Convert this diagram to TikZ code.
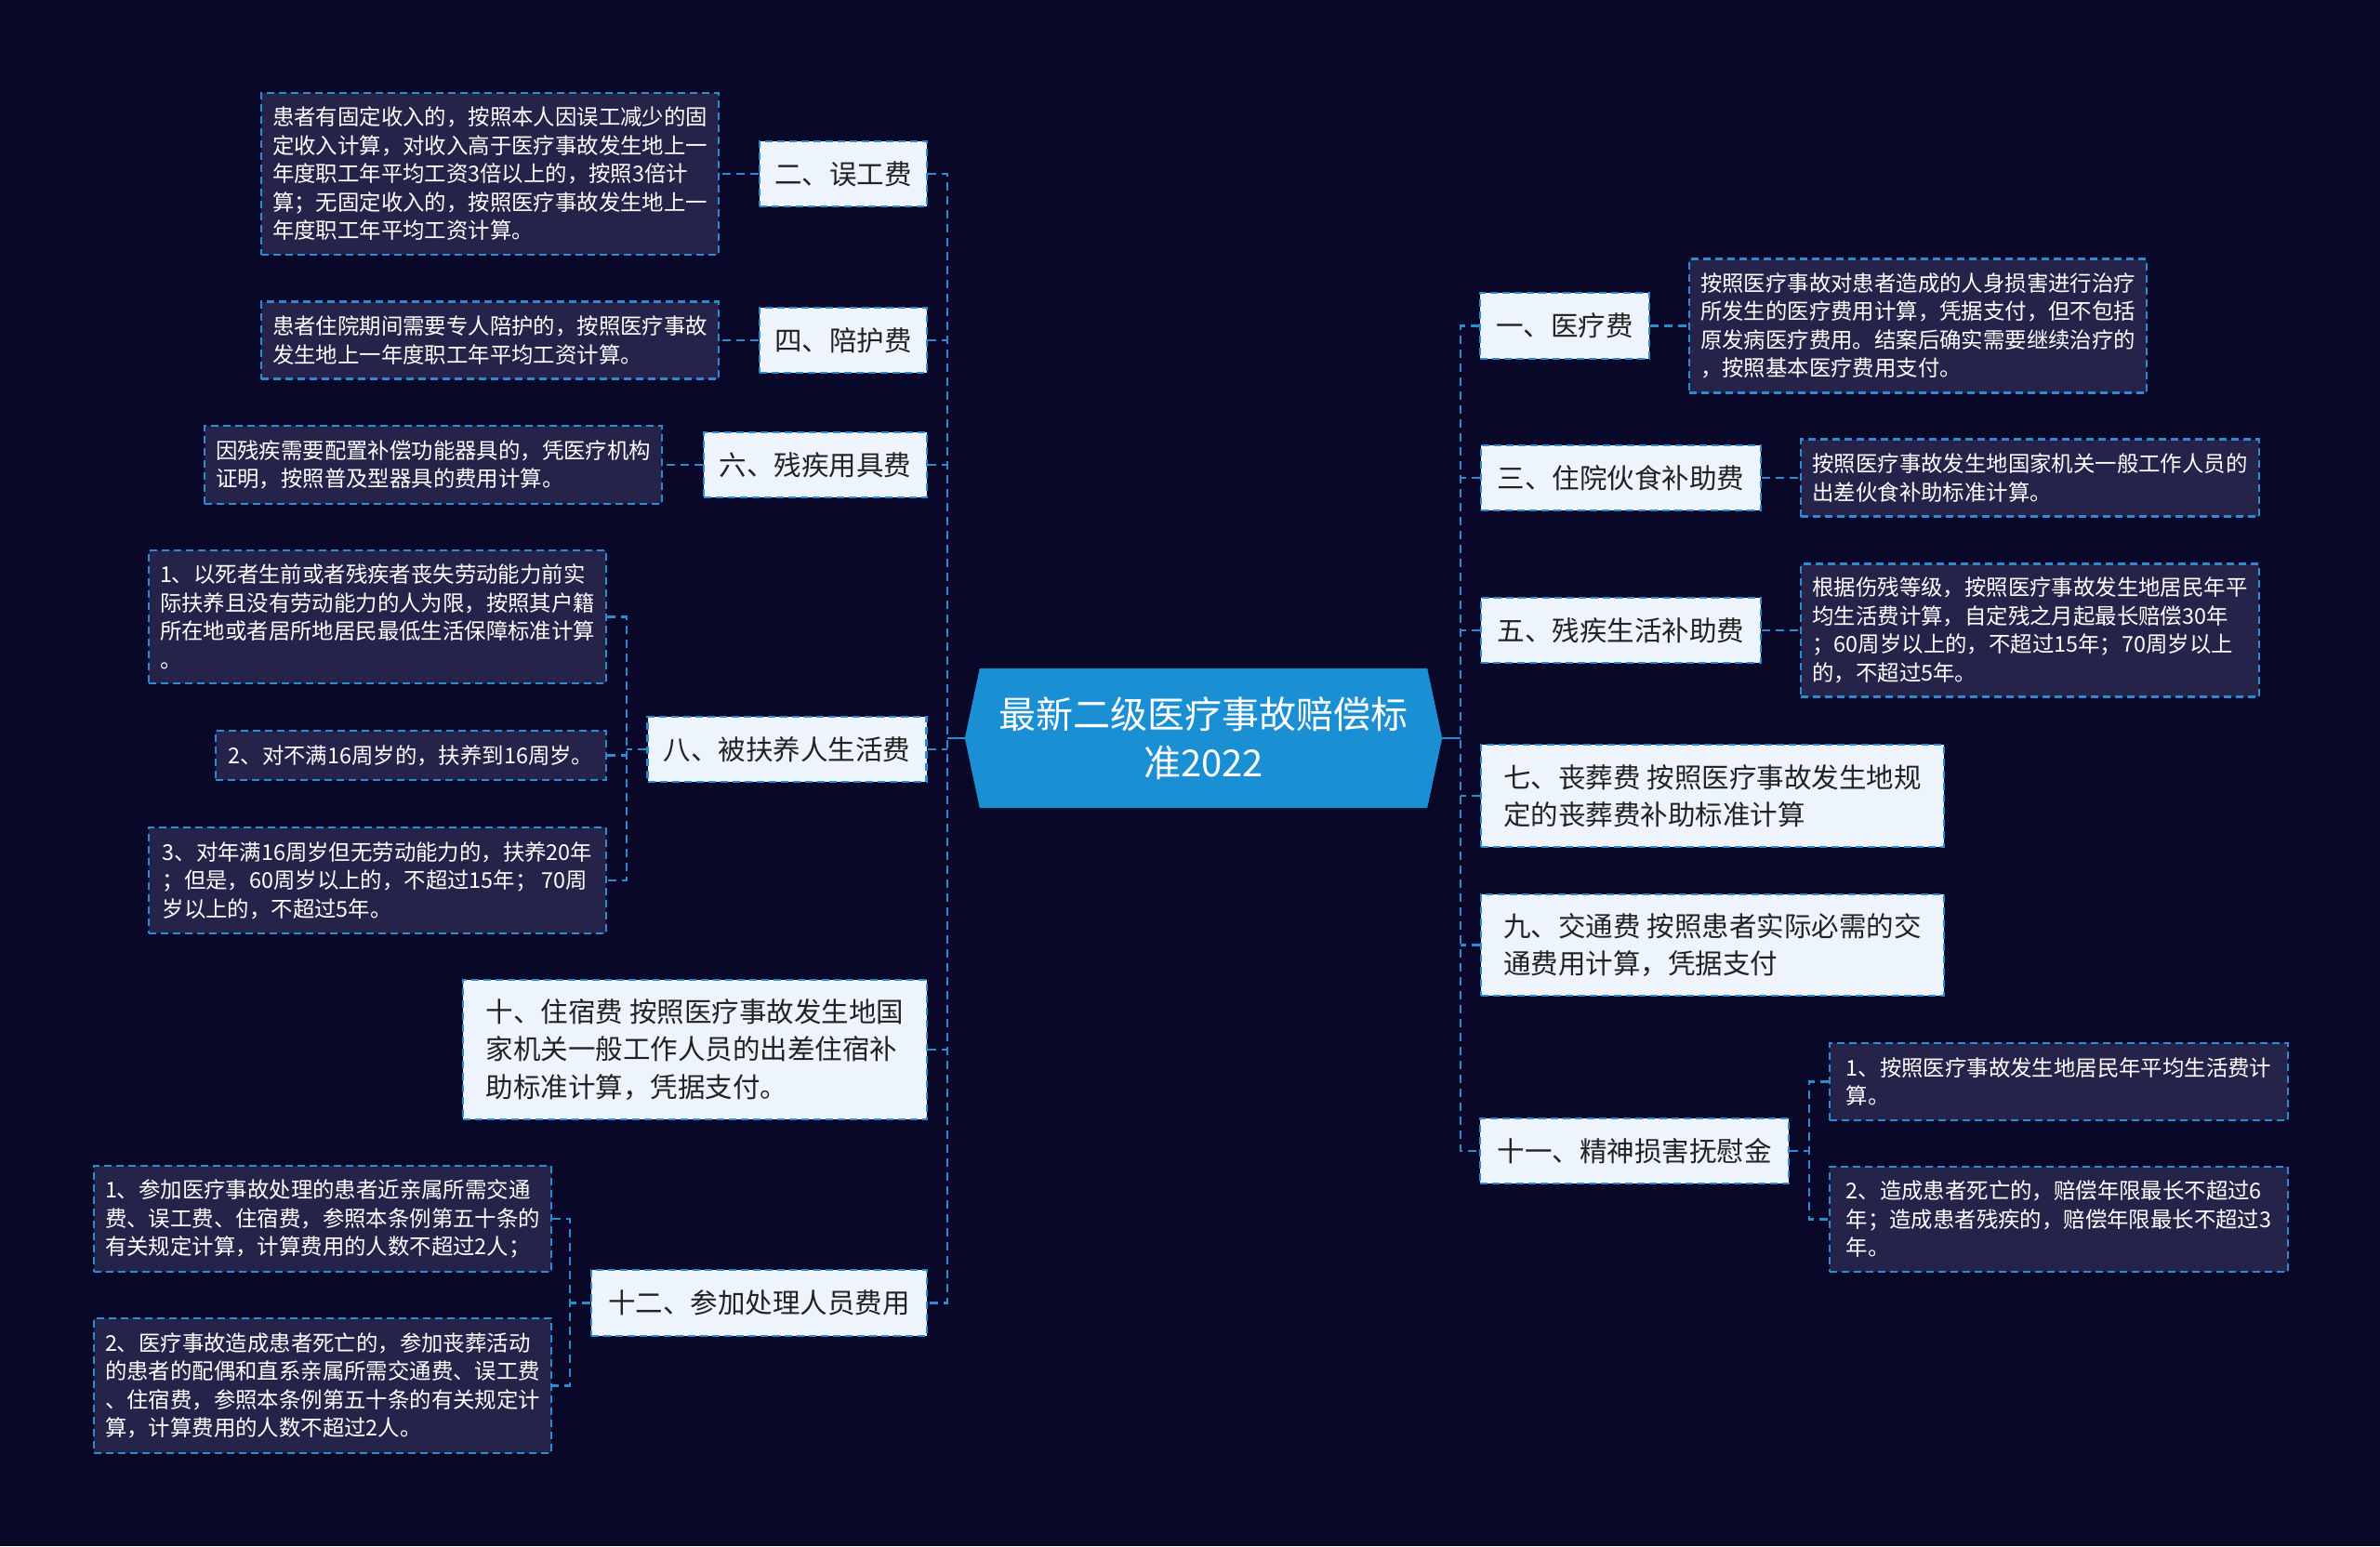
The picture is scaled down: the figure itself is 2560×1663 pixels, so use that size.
\documentclass[tikz,border=0pt]{standalone}
\usepackage{fontspec}
\setmainfont{Noto Sans CJK SC}
\definecolor{bgc}{HTML}{0A0828}
\definecolor{lfill}{HTML}{EEF4FC}
\definecolor{dfill}{HTML}{26234B}
\definecolor{bord}{HTML}{2C8CD2}
\definecolor{hexc}{HTML}{1B8FD4}
\definecolor{ltext}{HTML}{222222}
\pgfdeclarelayer{bg}\pgfdeclarelayer{mid}\pgfsetlayers{bg,mid,main}
\tikzset{
 box/.style={draw=bord, line width=2.2pt, dash pattern=on 8pt off 5pt, inner sep=0pt, align=left},
 lone/.style={box, fill=lfill, text=ltext, font=\fontsize{29.5}{40.5}\selectfont},
 detail/.style={box, fill=dfill, text=white, font=\fontsize{23.4}{30.5}\selectfont},
 conn/.style={draw=bord, line width=2.5pt, dash pattern=on 9pt off 6pt},
 solidconn/.style={draw=bord, line width=2.5pt},
 sz/.style 2 args={minimum width=#1pt, minimum height=#2pt},
}
\begin{document}
\begin{tikzpicture}[x=1pt,y=-1pt]
\useasboundingbox (0,0) rectangle (2560,1663);
\begin{pgfonlayer}{bg}
\fill[bgc] (0,0) rectangle (2560,1663);
\end{pgfonlayer}

% center
\node[text=white, font=\fontsize{40}{52}\selectfont, align=center, inner sep=0pt, sz={513}{150}] (c) at (1294.5,794) {最新二级医疗事故赔偿标\\准2022};
\begin{pgfonlayer}{mid}
\fill[hexc] (c.west) -- ([xshift=16pt]c.north west) -- ([xshift=-16pt]c.north east) -- (c.east) -- ([xshift=-16pt]c.south east) -- ([xshift=16pt]c.south west) -- cycle;
\end{pgfonlayer}

% left level one
\node[lone, sz={180}{70}] (n2) at (907,187) {二、误工费};
\node[lone, sz={180}{70}] (n4) at (907,366) {四、陪护费};
\node[lone, sz={240}{70}] (n6) at (877,500) {六、残疾用具费};
\node[lone, sz={300}{70}] (n8) at (846.5,806) {八、被扶养人生活费};
\node[lone, sz={499}{150}] (n10) at (747.5,1129) {十、住宿费 按照医疗事故发生地国\\家机关一般工作人员的出差住宿补\\助标准计算，凭据支付。};
\node[lone, sz={361}{71}] (n12) at (816.5,1401.5) {十二、参加处理人员费用};

% left details
\node[detail, sz={492}{174}] (d2) at (527,187) {患者有固定收入的，按照本人因误工减少的固\\定收入计算，对收入高于医疗事故发生地上一\\年度职工年平均工资3倍以上的，按照3倍计\\算；无固定收入的，按照医疗事故发生地上一\\年度职工年平均工资计算。};
\node[detail, sz={492}{83}] (d4) at (527,366) {患者住院期间需要专人陪护的，按照医疗事故\\发生地上一年度职工年平均工资计算。};
\node[detail, sz={492}{84}] (d6) at (466,500) {因残疾需要配置补偿功能器具的，凭医疗机构\\证明，按照普及型器具的费用计算。};
\node[detail, sz={492}{143}] (s8a) at (406,663.5) {1、以死者生前或者残疾者丧失劳动能力前实\\际扶养且没有劳动能力的人为限，按照其户籍\\所在地或者居所地居民最低生活保障标准计算\\。};
\node[detail, sz={420}{53}] (s8b) at (442,812.5) {2、对不满16周岁的，扶养到16周岁。};
\node[detail, sz={492}{114}] (s8c) at (406,947) {3、对年满16周岁但无劳动能力的，扶养20年\\；但是，60周岁以上的，不超过15年； 70周\\岁以上的，不超过5年。};
\node[detail, sz={492}{114}] (s12a) at (347,1311) {1、参加医疗事故处理的患者近亲属所需交通\\费、误工费、住宿费，参照本条例第五十条的\\有关规定计算，计算费用的人数不超过2人；};
\node[detail, sz={492}{145}] (s12b) at (347,1490.5) {2、医疗事故造成患者死亡的，参加丧葬活动\\的患者的配偶和直系亲属所需交通费、误工费\\、住宿费，参照本条例第五十条的有关规定计\\算，计算费用的人数不超过2人。};

% right level one
\node[lone, sz={182}{71}] (n1) at (1683,350.5) {一、医疗费};
\node[lone, sz={301}{70}] (n3) at (1743.5,514) {三、住院伙食补助费};
\node[lone, sz={301}{70}] (n5) at (1743.5,678) {五、残疾生活补助费};
\node[lone, sz={498}{110}] (n7) at (1842,856) {七、丧葬费 按照医疗事故发生地规\\定的丧葬费补助标准计算};
\node[lone, sz={498}{109}] (n9) at (1842,1016.5) {九、交通费 按照患者实际必需的交\\通费用计算，凭据支付};
\node[lone, sz={332}{70}] (n11) at (1758,1238) {十一、精神损害抚慰金};

% right details
\node[detail, sz={492}{144}] (d1) at (2063,350.5) {按照医疗事故对患者造成的人身损害进行治疗\\所发生的医疗费用计算，凭据支付，但不包括\\原发病医疗费用。结案后确实需要继续治疗的\\，按照基本医疗费用支付。};
\node[detail, sz={493}{83}] (d3) at (2183.5,514) {按照医疗事故发生地国家机关一般工作人员的\\出差伙食补助标准计算。};
\node[detail, sz={493}{143}] (d5) at (2183.5,678) {根据伤残等级，按照医疗事故发生地居民年平\\均生活费计算，自定残之月起最长赔偿30年\\；60周岁以上的，不超过15年；70周岁以上\\的，不超过5年。};
\node[detail, sz={493}{83}] (s11a) at (2214.5,1163.5) {1、按照医疗事故发生地居民年平均生活费计\\算。};
\node[detail, sz={493}{113}] (s11b) at (2214.5,1311.5) {2、造成患者死亡的，赔偿年限最长不超过6\\年；造成患者残疾的，赔偿年限最长不超过3\\年。};

% spine coordinates
\coordinate (lsp) at (1019,794);
\coordinate (rsp) at (1571,794);
\coordinate (sp8) at (674,806);
\coordinate (sp12) at (613,1401.5);
\coordinate (sp11) at (1946,1238);

% left connectors
\draw[solidconn] (c.west) -- (lsp);
\draw[conn] (n2.east) -- (n2.east -| lsp) -- (n12.east -| lsp) -- (n12.east);
\foreach \n in {n4,n6,n8,n10} \draw[conn] (\n.east) -- (\n.east -| lsp);
\foreach \n/\d in {n2/d2,n4/d4,n6/d6} \draw[conn] (\n.west) -- (\n.west -| \d.east);
\draw[conn] (n8.west) -- (sp8);
\draw[conn] (s8a.east) -- (s8a.east -| sp8) -- (s8c.east -| sp8) -- (s8c.east);
\draw[conn] (s8b.east) -- (s8b.east -| sp8);
\draw[conn] (n12.west) -- (sp12);
\draw[conn] (s12a.east) -- (s12a.east -| sp12) -- (s12b.east -| sp12) -- (s12b.east);

% right connectors
\draw[solidconn] (c.east) -- (rsp);
\draw[conn] (n1.west) -- (n1.west -| rsp) -- (n11.west -| rsp) -- (n11.west);
\foreach \n in {n3,n5,n7,n9} \draw[conn] (\n.west) -- (\n.west -| rsp);
\foreach \n/\d in {n1/d1,n3/d3,n5/d5} \draw[conn] (\n.east) -- (\n.east -| \d.west);
\draw[conn] (n11.east) -- (sp11);
\draw[conn] (s11a.west) -- (s11a.west -| sp11) -- (s11b.west -| sp11) -- (s11b.west);
\end{tikzpicture}
\end{document}
